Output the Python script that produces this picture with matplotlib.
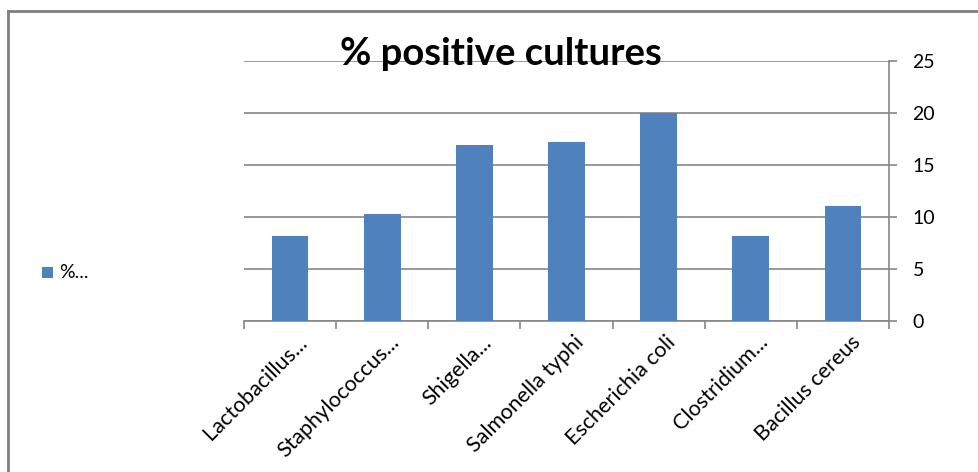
import matplotlib
matplotlib.use("Agg")
import matplotlib.pyplot as plt
import matplotlib.transforms as mtransforms
from matplotlib.lines import Line2D
from matplotlib.patches import Rectangle

categories = ["Lactobacillus...", "Staphylococcus...", "Shigella...", "Salmonella typhi",
              "Escherichia coli", "Clostridium...", "Bacillus cereus"]
values = [8.2, 10.3, 16.9, 17.2, 20.0, 8.2, 11.1]
yticks = [0, 5, 10, 15, 20, 25]
title = "% positive cultures"
legend_label = "%..."

plt.rcParams['font.family'] = ['Lato', 'DejaVu Sans']
W, H = 979, 472
fig = plt.figure(figsize=(W / 100, H / 100), dpi=100)
ax = fig.add_axes([244 / W, 1 - 321 / H, (889 - 244) / W, (321 - 61) / H])

bar_color = "#4F81BD"
grid_color = "#868686"
x = list(range(len(categories)))
ax.bar(x, values, width=0.4, color=bar_color, zorder=3)
ax.set_xlim(-0.5, len(categories) - 0.5)
ax.set_ylim(0, 25)
ax.set_yticks(yticks)
ax.yaxis.tick_right()
ax.yaxis.grid(True, color=grid_color, linewidth=1.2, zorder=0)
ax.tick_params(axis='y', length=6, width=1.2, color=grid_color, pad=11, labelsize=14)
for s in ['top', 'left']:
    ax.spines[s].set_visible(False)
for s in ['right', 'bottom']:
    ax.spines[s].set_color(grid_color)
    ax.spines[s].set_linewidth(1.2)

ax.set_xticks([i - 0.5 for i in range(len(categories) + 1)], minor=False)
ax.set_xticklabels([])
ax.tick_params(axis='x', which='major', length=6, width=1.2, color=grid_color)
ax.set_xticks(x, minor=True)
ax.set_xticklabels(categories, minor=True, rotation=45, ha='right', va='top',
                   rotation_mode='anchor', fontsize=15.5)
ax.tick_params(axis='x', which='minor', length=0, pad=8)
offset = mtransforms.ScaledTranslation(7 / 100, 0, fig.dpi_scale_trans)
for lbl in ax.get_xticklabels(minor=True):
    lbl.set_transform(lbl.get_transform() + offset)

fig.text(501 / W, 1 - 65 / H, title, ha='center', va='baseline', fontsize=27.5,
         fontweight='bold', color='black')

# legend
fig.patches.append(Rectangle((42 / W, 1 - 278 / H), 11 / W, 11 / H, transform=fig.transFigure,
                             facecolor=bar_color, edgecolor='none'))
fig.text(59 / W, 1 - 272 / H, legend_label, ha='left', va='center', fontsize=14)

# outer frame (left and top edges)
fig.add_artist(Line2D([8 / W, 8 / W], [0, 1 - 11 / H], transform=fig.transFigure,
                      color='#7f7f7f', linewidth=2))
fig.add_artist(Line2D([8 / W, 1], [1 - 11 / H, 1 - 11 / H], transform=fig.transFigure,
                      color='#7f7f7f', linewidth=2))

fig.savefig("out.png", dpi=100)
